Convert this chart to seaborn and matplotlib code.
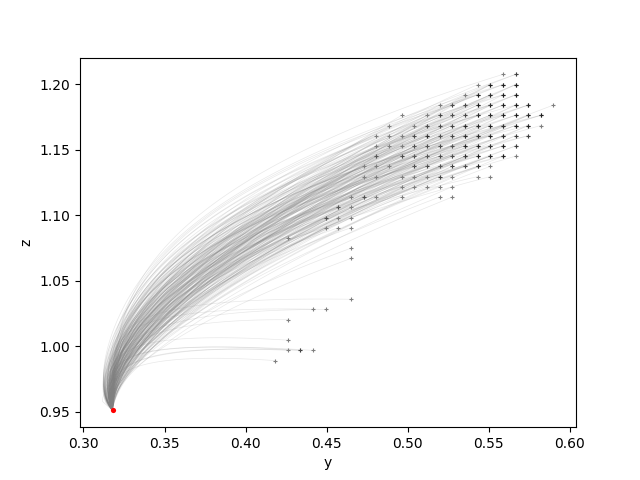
import numpy as np
import pandas as pd
import seaborn as sns
import matplotlib
matplotlib.use('Agg')
import matplotlib.pyplot as plt

# start of all trajectories (red point)
start_y = 0.318
start_z = 0.951

# grid of end points
grid_y = [0.4182, 0.4260, 0.4338, 0.4416, 0.4494, 0.4572, 0.4650, 0.4728,
          0.4806, 0.4884, 0.4962, 0.5040, 0.5118, 0.5196, 0.5274, 0.5352,
          0.5430, 0.5508, 0.5586, 0.5664, 0.5742, 0.5820, 0.5898]
grid_z = [1.2074, 1.1996, 1.1918, 1.1840, 1.1762, 1.1684, 1.1606, 1.1528,
          1.1450, 1.1372, 1.1294, 1.1216, 1.1138, 1.1060, 1.0982, 1.0904,
          1.0826, 1.0748, 1.0670, 1.0592, 1.0514, 1.0436, 1.0358, 1.0280,
          1.0202, 1.0124, 1.0046, 0.9968, 0.9890]
# how many trajectories end at each grid cell (row = grid_z, column = grid_y)
end_counts = [
    "00000000000000000012000",
    "00000000000000001333000",
    "00000000000000013333000",
    "00000000000001223333301",
    "00000000001012223333330",
    "00000000010122233333310",
    "00000000111232233332200",
    "00000000111222233332000",
    "00000000202222233331000",
    "00000001110222223100000",
    "00000001101112101100000",
    "00000000001111100000000",
    "00000012101001100000000",
    "00000210000000000000000",
    "00002110000000000000000",
    "00001110000000000000000",
    "01000000000000000000000",
    "00000010000000000000000",
    "00000010000000000000000",
    "00000000000000000000000",
    "00000000000000000000000",
    "00000000000000000000000",
    "00000010000000000000000",
    "00011000000000000000000",
    "01000000000000000000000",
    "00000000000000000000000",
    "01000000000000000000000",
    "01210000000000000000000",
    "10000000000000000000000",
]

# bend of the paths: exponents of the rise, and lean to the left near the start
curve_a = [0.36, 0.42, 0.46, 0.50, 0.54, 0.58, 0.64]
curve_lean = [0.0, 0.05, 0.14, 0.02, 0.08]
low_a = [0.18, 0.25]
low_rise = 0.018

ends_y, ends_z = [], []
for zv, row in zip(grid_z, end_counts):
    for yv, ch in zip(grid_y, row):
        ends_y += [yv] * int(ch)
        ends_z += [zv] * int(ch)

t = np.linspace(0, 1, 90) ** 2
frames = []
for k, (ye, ze) in enumerate(zip(ends_y, ends_z)):
    dy = ye - start_y
    dz = ze - start_z
    if ze < 1.05:
        a = low_a[k % 2]
        rise = low_rise
    else:
        a = curve_a[k % 7]
        rise = 0.0
    w = curve_lean[k % 5]
    g = t ** a
    zz = start_z + dz * g + rise * g * (1 - t)
    yy = start_y + dy * t - w * g * (1 - g) * np.exp(-g / 0.14)
    frames.append(pd.DataFrame({'y': yy, 'z': zz, 'traj': k}))
paths = pd.concat(frames, ignore_index=True)

fig, ax = plt.subplots(figsize=(6.4, 4.8), dpi=100)
sns.lineplot(data=paths, x='y', y='z', units='traj', estimator=None, sort=False,
             color='gray', linewidth=0.5, alpha=0.18, ax=ax)
sns.scatterplot(x=ends_y, y=ends_z, marker='+', s=9, color='k', alpha=0.5,
                linewidth=0.8, ax=ax)
sns.scatterplot(x=[start_y], y=[start_z], color='red', s=14, linewidth=0, ax=ax, zorder=5)
ax.set_xlabel('y')
ax.set_ylabel('z')

fig.savefig('out.png', dpi=100)
